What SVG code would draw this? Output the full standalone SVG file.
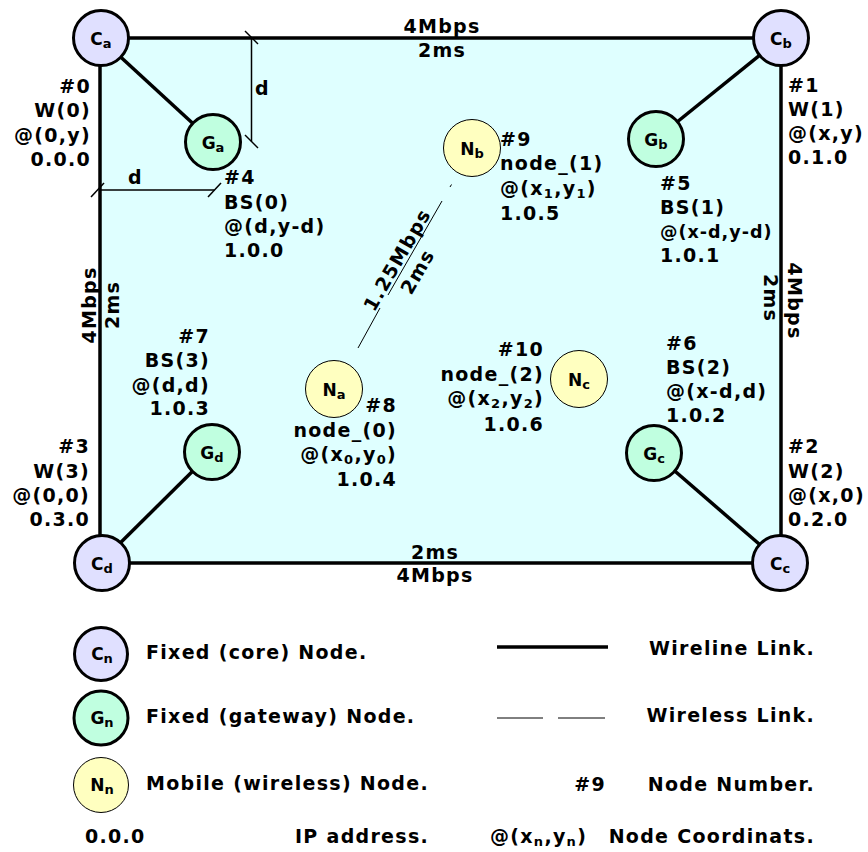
<svg xmlns="http://www.w3.org/2000/svg" width="868" height="852" viewBox="0 0 868 852">
<style>
.area{fill:#DFFFFF;stroke:none}
.core{fill:#E0E0FF;stroke:#000;stroke-width:3}
.gw{fill:#C0FFE0;stroke:#000;stroke-width:3}
.mob{fill:#FFFFC0;stroke:#000;stroke-width:1}
.wire{stroke:#000;stroke-width:3.5;fill:none;stroke-linecap:butt}
.wless{stroke:#000;stroke-width:1;fill:none}
.dim{stroke:#000;stroke-width:1.5;fill:none}
text{font-family:"DejaVu Sans",Verdana,sans-serif;font-weight:bold;font-size:19px;letter-spacing:1.3px;fill:#000}
.lbl{font-size:17px;letter-spacing:0}
.sub{font-size:13px}
.e{text-anchor:end}
.m{text-anchor:middle}
</style>
<rect class="area" x="100" y="38" width="681" height="525"/>
<g id="connectors">
<line class="wire" x1="100" y1="38" x2="781" y2="38"/>
<line class="wire" x1="781" y1="38" x2="781" y2="563"/>
<line class="wire" x1="781" y1="563" x2="100" y2="563"/>
<line class="wire" x1="100" y1="563" x2="100" y2="38"/>
<line class="wire" x1="100" y1="38" x2="213" y2="142"/>
<line class="wire" x1="781" y1="38" x2="656" y2="139"/>
<line class="wire" x1="781" y1="563" x2="654" y2="453"/>
<line class="wire" x1="100" y1="563" x2="212" y2="452"/>
<path class="wless" d="M358,348 L380,308 M388,295 L442,201 M450,187 L451.5,184.5"/>
</g>
<g id="link-labels">
<text class="m" x="442" y="33">4Mbps</text>
<text class="m" x="442" y="57">2ms</text>
<text class="m" x="435" y="559">2ms</text>
<text class="m" x="435" y="582">4Mbps</text>
<text class="m" transform="translate(96,305) rotate(-90)">4Mbps</text>
<text class="m" transform="translate(119,305) rotate(-90)">2ms</text>
<text class="m" transform="translate(788,301) rotate(90)">4Mbps</text>
<text class="m" transform="translate(764,298) rotate(90)">2ms</text>
<g transform="translate(358,348) rotate(-60)">
<text class="m" x="96" y="-3.5">1.25Mbps</text>
<text class="m" x="96" y="20">2ms</text>
</g>
</g>
<g id="dimensions">
<line class="dim" x1="251.5" y1="38" x2="251.5" y2="141.5"/>
<line class="dim" x1="245" y1="31" x2="258" y2="44"/>
<line class="dim" x1="245" y1="135" x2="258" y2="148"/>
<text x="255" y="95">d</text>
<line class="dim" x1="100" y1="190" x2="214.5" y2="190"/>
<line class="dim" x1="91" y1="197" x2="104" y2="183"/>
<line class="dim" x1="208" y1="197" x2="221" y2="183"/>
<text x="128" y="184">d</text>
</g>
<g id="node0">
<circle class="core" cx="101" cy="38" r="27.5"/>
<text class="lbl m" x="101" y="44.5">C<tspan class="sub" dy="3">a</tspan></text>
<text class="e" x="91" y="93">#0</text>
<text class="e" x="91" y="117">W(0)</text>
<text class="e" x="91" y="142">@(0,y)</text>
<text class="e" x="91" y="166">0.0.0</text>
</g>
<g id="node1">
<circle class="core" cx="781" cy="38" r="27.5"/>
<text class="lbl m" x="781" y="44.5">C<tspan class="sub" dy="3">b</tspan></text>
<text x="788" y="92">#1</text>
<text x="788" y="116">W(1)</text>
<text x="788" y="140">@(x,y)</text>
<text x="788" y="164">0.1.0</text>
</g>
<g id="node2">
<circle class="core" cx="780" cy="563" r="27.5"/>
<text class="lbl m" x="780" y="569.5">C<tspan class="sub" dy="3">c</tspan></text>
<text x="788" y="453">#2</text>
<text x="788" y="478">W(2)</text>
<text x="788" y="502">@(x,0)</text>
<text x="788" y="526">0.2.0</text>
</g>
<g id="node3">
<circle class="core" cx="102" cy="563" r="27.5"/>
<text class="lbl m" x="102" y="569.5">C<tspan class="sub" dy="3">d</tspan></text>
<text class="e" x="90" y="453">#3</text>
<text class="e" x="90" y="478">W(3)</text>
<text class="e" x="90" y="502">@(0,0)</text>
<text class="e" x="90" y="526">0.3.0</text>
</g>
<g id="node4">
<circle class="gw" cx="213" cy="142" r="27.5"/>
<text class="lbl m" x="213" y="148.5">G<tspan class="sub" dy="3">a</tspan></text>
<text x="224" y="184">#4</text>
<text x="224" y="209">BS(0)</text>
<text x="224" y="233">@(d,y-d)</text>
<text x="224" y="257">1.0.0</text>
</g>
<g id="node5">
<circle class="gw" cx="656" cy="139" r="27.5"/>
<text class="lbl m" x="656" y="145.5">G<tspan class="sub" dy="3">b</tspan></text>
<text x="660" y="190">#5</text>
<text x="660" y="214">BS(1)</text>
<text x="660" y="238" style="font-size:17.5px;letter-spacing:1px">@(x-d,y-d)</text>
<text x="660" y="262">1.0.1</text>
</g>
<g id="node6">
<circle class="gw" cx="654" cy="453" r="27.5"/>
<text class="lbl m" x="654" y="459.5">G<tspan class="sub" dy="3">c</tspan></text>
<text x="666" y="350">#6</text>
<text x="666" y="374">BS(2)</text>
<text x="666" y="398">@(x-d,d)</text>
<text x="666" y="422">1.0.2</text>
</g>
<g id="node7">
<circle class="gw" cx="212" cy="452" r="27.5"/>
<text class="lbl m" x="212" y="458.5">G<tspan class="sub" dy="3">d</tspan></text>
<text class="e" x="210" y="343">#7</text>
<text class="e" x="210" y="367">BS(3)</text>
<text class="e" x="210" y="392">@(d,d)</text>
<text class="e" x="210" y="415">1.0.3</text>
</g>
<g id="node8">
<circle class="mob" cx="334" cy="389" r="28.5"/>
<text class="lbl m" x="334" y="395.5">N<tspan class="sub" dy="3">a</tspan></text>
<text class="e" x="397" y="412">#8</text>
<text class="e" x="397" y="437">node_(0)</text>
<text class="e" x="397" y="461">@(x<tspan class="sub" dy="3">0</tspan><tspan dy="-3">,y</tspan><tspan class="sub" dy="3">0</tspan><tspan dy="-3">)</tspan></text>
<text class="e" x="397" y="486">1.0.4</text>
</g>
<g id="node9">
<circle class="mob" cx="472" cy="148" r="28.5"/>
<text class="lbl m" x="472" y="154.5">N<tspan class="sub" dy="3">b</tspan></text>
<text x="500" y="146">#9</text>
<text x="500" y="170">node_(1)</text>
<text x="500" y="195">@(x<tspan class="sub" dy="3">1</tspan><tspan dy="-3">,y</tspan><tspan class="sub" dy="3">1</tspan><tspan dy="-3">)</tspan></text>
<text x="500" y="220">1.0.5</text>
</g>
<g id="node10">
<circle class="mob" cx="579" cy="379" r="28.5"/>
<text class="lbl m" x="579" y="385.5">N<tspan class="sub" dy="3">c</tspan></text>
<text class="e" x="544" y="356">#10</text>
<text class="e" x="544" y="381">node_(2)</text>
<text class="e" x="544" y="405">@(x<tspan class="sub" dy="3">2</tspan><tspan dy="-3">,y</tspan><tspan class="sub" dy="3">2</tspan><tspan dy="-3">)</tspan></text>
<text class="e" x="544" y="431">1.0.6</text>
</g>
<g id="legend">
<circle class="core" cx="101" cy="654" r="26.5"/>
<text class="lbl m" x="102" y="660">C<tspan class="sub" dy="3">n</tspan></text>
<text x="146" y="659">Fixed (core) Node.</text>
<circle class="gw" cx="101" cy="718" r="27"/>
<text class="lbl m" x="102" y="724">G<tspan class="sub" dy="3">n</tspan></text>
<text x="146" y="723">Fixed (gateway) Node.</text>
<circle class="mob" cx="101" cy="785" r="27.5"/>
<text class="lbl m" x="102" y="791">N<tspan class="sub" dy="3">n</tspan></text>
<text x="146" y="790">Mobile (wireless) Node.</text>
<text x="85" y="843">0.0.0</text>
<text x="295" y="843">IP address.</text>
<line class="wire" x1="497" y1="647" x2="608" y2="647"/>
<text class="e" x="815" y="655">Wireline Link.</text>
<line class="wless" x1="497" y1="718" x2="543" y2="718"/>
<line class="wless" x1="558" y1="718" x2="605" y2="718"/>
<text class="e" x="815" y="722">Wireless Link.</text>
<text class="e" x="606" y="791">#9</text>
<text class="e" x="815" y="791">Node Number.</text>
<text x="490" y="843">@(x<tspan class="sub" dy="3">n</tspan><tspan dy="-3">,y</tspan><tspan class="sub" dy="3">n</tspan><tspan dy="-3">)</tspan></text>
<text class="e" x="815" y="843">Node Coordinats.</text>
</g>
</svg>
